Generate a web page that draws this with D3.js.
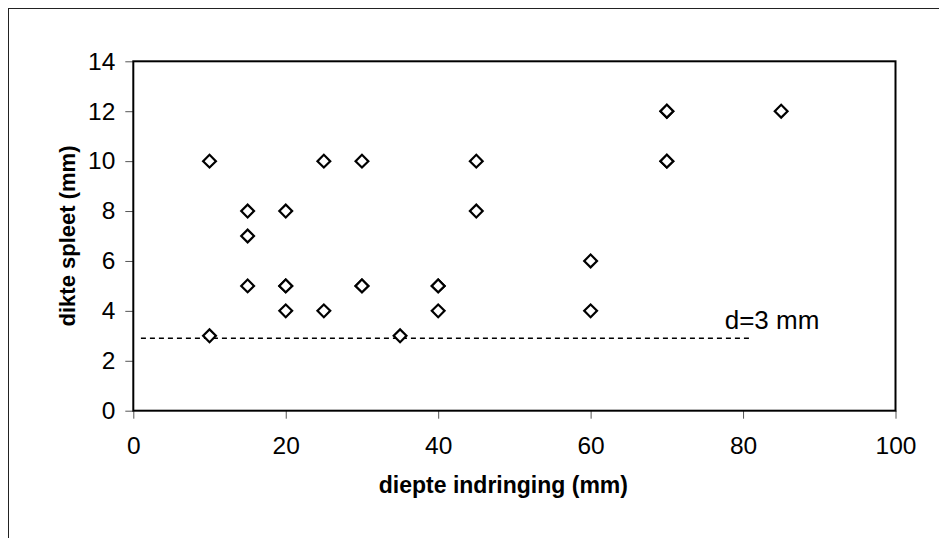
<!DOCTYPE html>
<meta charset="utf-8">
<style>
body { margin: 0; background: #fff; }
text { font-family: Arial, "Liberation Sans", sans-serif; fill: #000; }
.tick line { stroke: #555; stroke-width: 1px; }
.domain { display: none; }
.frame { fill: none; stroke: #000; stroke-width: 2px; }
.point { fill: #fff; stroke: #000; stroke-width: 2.2px; }
.threshold { stroke: #000; stroke-width: 1.4px; stroke-dasharray: 5,4; }
</style>
<body>
<script src="https://d3js.org/d3.v7.min.js"></script>
<script>

// data
var depth = [10, 10, 15, 15, 15, 20, 20, 20, 20, 25, 25, 30, 30, 30, 35, 40, 40, 40, 45, 45, 60, 60, 70, 70, 70, 70, 85];
var gap   = [10,  3,  8,  7,  5,  8,  5,  5,  4, 10,  4, 10,  5,  5,  3,  5,  5,  4, 10,  8,  6,  4, 12, 12, 10, 10, 12];
var xTicks = [0, 20, 40, 60, 80, 100];
var yTicks = [0, 2, 4, 6, 8, 10, 12, 14];
var thresholdX = [1, 81];
var thresholdY = 2.9;
var thresholdLabel = "d=3 mm";

var W = 939, H = 538;
var margin = {top: 61.3, right: 43.5, bottom: 127.3, left: 133.3};
var width = W - margin.left - margin.right,
    height = H - margin.top - margin.bottom;

var svg = d3.select("body").append("svg")
    .attr("width", W)
    .attr("height", H);

// outer chart border (only left and top are visible in the crop)
svg.append("rect")
    .attr("x", 8.5).attr("y", 8.5)
    .attr("width", W).attr("height", H)
    .attr("fill", "none")
    .attr("stroke", "#222")
    .attr("stroke-width", 1);

var g = svg.append("g")
    .attr("transform", "translate(" + margin.left + "," + margin.top + ")");

var x = d3.scaleLinear().domain([0, 100]).range([0, width]);
var y = d3.scaleLinear().domain([0, 14]).range([height, 0]);

// axes
var xAxis = g.append("g")
    .attr("transform", "translate(0," + height + ")")
    .call(d3.axisBottom(x).tickValues(xTicks).tickSize(8).tickPadding(18));
xAxis.selectAll("text").style("font-size", "24.5px");

var yAxis = g.append("g")
    .call(d3.axisLeft(y).tickValues(yTicks).tickSize(8).tickPadding(10));
yAxis.selectAll("text").style("font-size", "24.5px");

// plot frame
g.append("rect")
    .attr("class", "frame")
    .attr("width", width)
    .attr("height", height);

// d = 3 mm reference line
g.append("line")
    .attr("class", "threshold")
    .attr("x1", x(thresholdX[0])).attr("x2", x(thresholdX[1]))
    .attr("y1", y(thresholdY)).attr("y2", y(thresholdY));

g.append("text")
    .attr("x", x(thresholdX[1]) - 26)
    .attr("y", y(thresholdY) - 9)
    .style("font-size", "26px")
    .text(thresholdLabel);

// points
var diamond = d3.symbol().type(d3.symbolSquare).size(82);
g.selectAll(".point")
    .data(depth.map(function(d, i) { return {x: d, y: gap[i]}; }))
  .enter().append("path")
    .attr("class", "point")
    .attr("d", diamond)
    .attr("transform", function(d) {
      return "translate(" + x(d.x) + "," + y(d.y) + ") rotate(45)";
    });

// axis titles
svg.append("text")
    .attr("x", margin.left + width / 2 - 11)
    .attr("y", 493)
    .attr("text-anchor", "middle")
    .style("font-size", "23px")
    .style("font-weight", "bold")
    .text("diepte indringing (mm)");

svg.append("text")
    .attr("transform", "translate(75," + (margin.top + height / 2) + ") rotate(-90)")
    .attr("text-anchor", "middle")
    .style("font-size", "22px")
    .style("font-weight", "bold")
    .text("dikte spleet (mm)");

</script>
</body>
